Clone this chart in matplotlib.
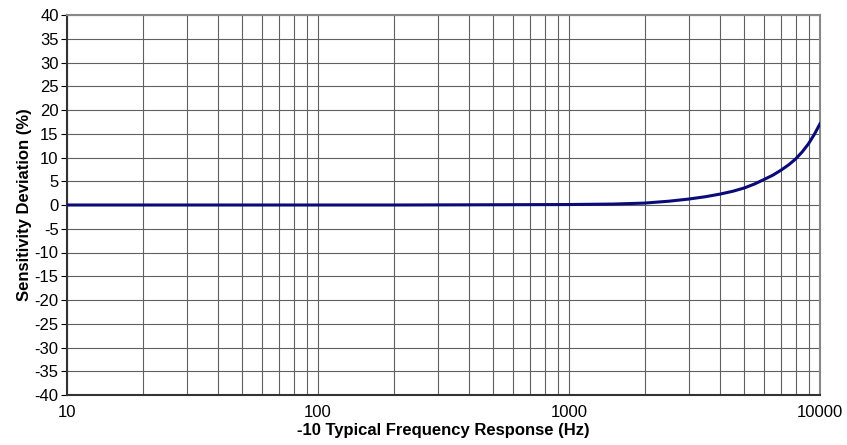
import matplotlib
matplotlib.use("Agg")
import matplotlib.pyplot as plt
from matplotlib.ticker import FixedLocator, NullFormatter

plt.rcParams["font.family"] = ["Liberation Sans", "DejaVu Sans"]
plt.rcParams["axes.unicode_minus"] = False

# Frequency response
freq_hz = [10, 20, 50, 100, 200, 500, 1000, 1500, 2000, 2500, 3000, 3500, 4000,
           4500, 5000, 5500, 6000, 6500, 7000, 7500, 8000, 8500, 9000, 9500, 10000]
deviation_pct = [0.0, 0.0, 0.0, 0.0, 0.0, 0.05, 0.1, 0.2, 0.4, 0.8, 1.25, 1.75, 2.3,
                 2.9, 3.6, 4.45, 5.4, 6.3, 7.35, 8.45, 9.7, 11.2, 12.9, 14.9, 17.1]

y_ticks = list(range(-40, 45, 5))
x_major = [10, 100, 1000, 10000]
x_minor = [m * d for d in (10, 100, 1000) for m in range(2, 10)]

fig = plt.figure(figsize=(8.47, 4.45), dpi=100)
ax = fig.add_axes([67 / 847, 50 / 445, 753 / 847, 380 / 445])

ax.plot(freq_hz, deviation_pct, color="#0a0a78", linewidth=2.2, zorder=3)

ax.set_xscale("log")
ax.set_xlim(10, 10000)
ax.set_ylim(-40, 40)
ax.xaxis.set_major_locator(FixedLocator(x_major))
ax.xaxis.set_minor_locator(FixedLocator(x_minor))
ax.xaxis.set_minor_formatter(NullFormatter())
ax.set_xticklabels([str(v) for v in x_major])
ax.set_yticks(y_ticks)

ax.grid(True, which="major", color="#606060", linewidth=0.8)
ax.grid(True, which="minor", color="#606060", linewidth=0.8)
ax.tick_params(axis="x", which="both", length=0, labelsize=12, pad=7)
ax.tick_params(axis="y", length=4, width=0.8, labelsize=12, pad=2)

for side in ("left", "bottom"):
    ax.spines[side].set_color("#333333")
    ax.spines[side].set_linewidth(1.5)
for side in ("top", "right"):
    ax.spines[side].set_color("#888888")
    ax.spines[side].set_linewidth(1.5)

ax.set_xlabel("-10 Typical Frequency Response (Hz)", fontsize=12, fontweight="bold", labelpad=2)
ax.set_ylabel("Sensitivity Deviation (%)", fontsize=12, fontweight="bold", labelpad=2)

fig.savefig("out.png", dpi=100)
